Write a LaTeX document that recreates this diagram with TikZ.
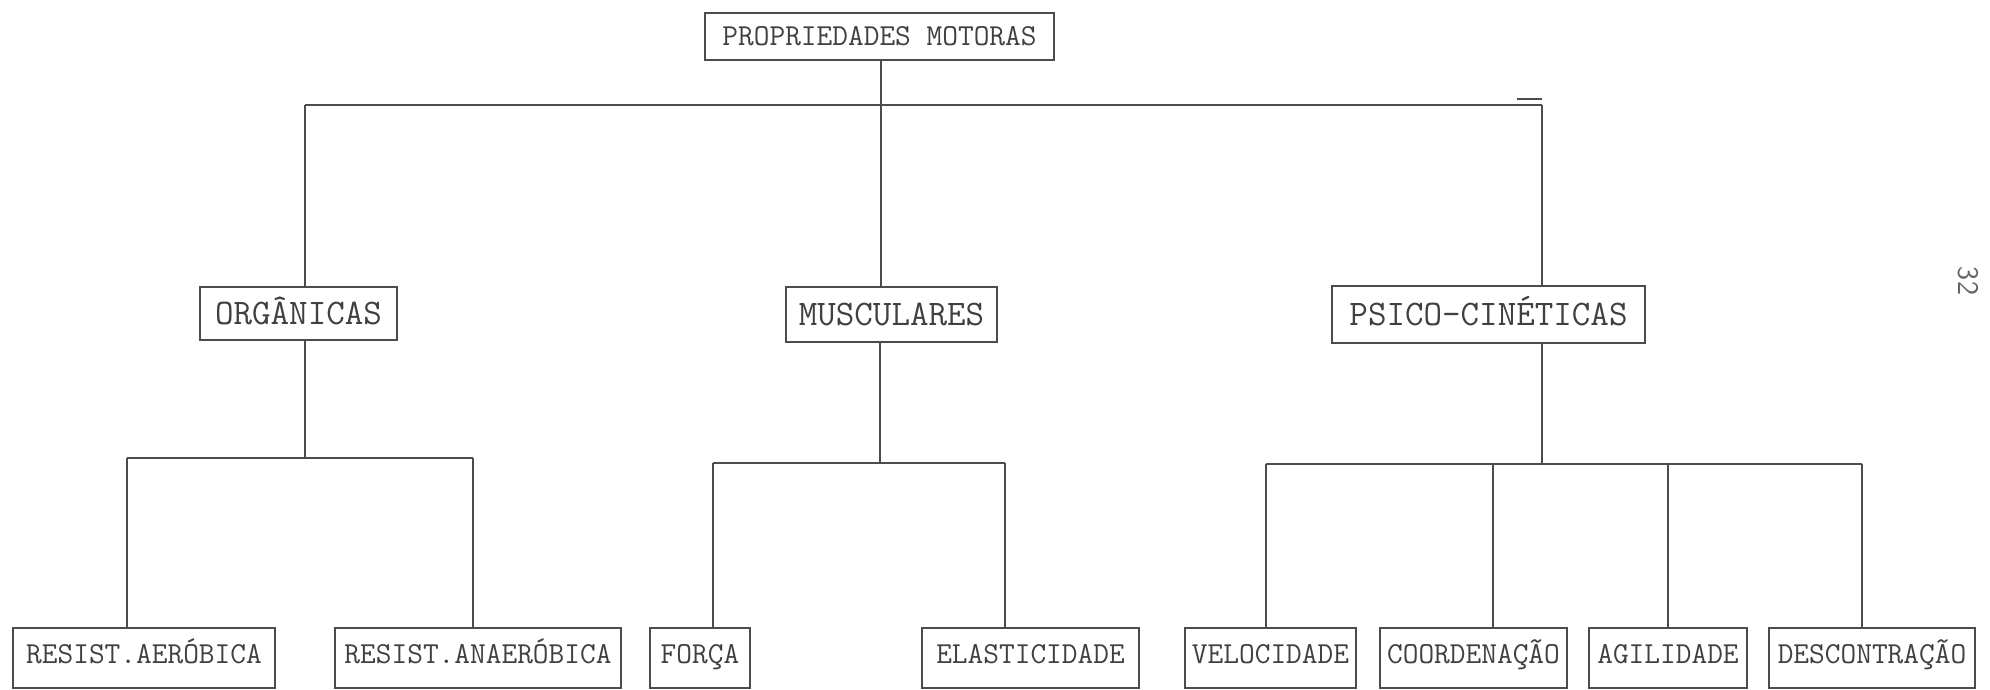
\documentclass[tikz,border=0pt]{standalone}
\usepackage{fontspec}
\begin{document}
\begin{tikzpicture}[x=1pt,y=-1pt,
  ln/.style={line width=1.6pt, draw=black!70},
  bx/.style={draw=black!70, line width=1.8pt, inner sep=0pt, rectangle, text=black!75},
  fa/.style={font=\ttfamily\fontsize{30.5}{36}\selectfont, text height=19pt, text depth=0pt},
  fc/.style={font=\ttfamily\fontsize{30.5}{36}\selectfont, text height=19pt, text depth=8pt},
  fb/.style={font=\ttfamily\fontsize{36}{40}\selectfont, text height=22pt, text depth=0pt}]
\useasboundingbox (0,0) rectangle (1990,690);

% boxes
\node[bx,fa,minimum width=349pt,minimum height=47pt] (root) at (879.5,36.5) {PROPRIEDADES MOTORAS};

\node[bx,fb,minimum width=197pt,minimum height=53pt] (org) at (298.5,313.5) {ORGÂNICAS};
\node[bx,fb,minimum width=211pt,minimum height=55pt] (mus) at (891.5,314.5) {MUSCULARES};
\node[bx,fb,minimum width=313pt,minimum height=57pt] (psi) at (1488.5,314.5) {PSICO-CINÉTICAS};

\node[bx,fc,minimum width=262pt,minimum height=60pt] (ra)  at (144,658)   {RESIST.AERÓBICA};
\node[bx,fc,minimum width=286pt,minimum height=60pt] (ran) at (478,658)   {RESIST.ANAERÓBICA};
\node[bx,fc,minimum width=100pt,minimum height=60pt] (for) at (700,658)   {FORÇA};
\node[bx,fc,minimum width=217pt,minimum height=60pt] (ela) at (1030.5,658){ELASTICIDADE};
\node[bx,fc,minimum width=171pt,minimum height=60pt] (vel) at (1270.5,658){VELOCIDADE};
\node[bx,fc,minimum width=187pt,minimum height=60pt] (coo) at (1473.5,658){COORDENAÇÃO};
\node[bx,fc,minimum width=158pt,minimum height=60pt] (agi) at (1668,658)  {AGILIDADE};
\node[bx,fc,minimum width=206pt,minimum height=60pt] (des) at (1872,658)  {DESCONTRAÇÃO};

\node[font=\sffamily\fontsize{30}{30}\selectfont, text=black!60, rotate=-90] (pg) at (1968,281) {32};

% level 1 bus
\coordinate (h1L) at (305,105);
\coordinate (h1M) at (881,105);
\coordinate (h1R) at (1542,105);
\coordinate (stub) at (1517,99);
\draw[ln] (root.south -| h1M) -- (h1M);
\draw[ln] (h1L) -- (h1R);
\draw[ln] (stub) -- (stub -| h1R);
\draw[ln] (h1L) -- (h1L |- org.north);
\draw[ln] (h1M) -- (h1M |- mus.north);
\draw[ln] (h1R) -- (h1R |- psi.north);

% organicas bus
\coordinate (oM) at (305,458);
\coordinate (oL) at (127,458);
\coordinate (oR) at (473,458);
\draw[ln] (org.south -| oM) -- (oM);
\draw[ln] (oL) -- (oR);
\draw[ln] (oL) -- (oL |- ra.north);
\draw[ln] (oR) -- (oR |- ran.north);

% musculares bus
\coordinate (mM) at (880,463);
\coordinate (mL) at (713,463);
\coordinate (mR) at (1005,463);
\draw[ln] (mus.south -| mM) -- (mM);
\draw[ln] (mL) -- (mR);
\draw[ln] (mL) -- (mL |- for.north);
\draw[ln] (mR) -- (mR |- ela.north);

% psico bus
\coordinate (pM) at (1542,464);
\coordinate (p1) at (1266,464);
\coordinate (p2) at (1493,464);
\coordinate (p3) at (1668,464);
\coordinate (p4) at (1862,464);
\draw[ln] (psi.south -| pM) -- (pM);
\draw[ln] (p1) -- (p4);
\draw[ln] (p1) -- (p1 |- vel.north);
\draw[ln] (p2) -- (p2 |- coo.north);
\draw[ln] (p3) -- (p3 |- agi.north);
\draw[ln] (p4) -- (p4 |- des.north);
\end{tikzpicture}
\end{document}
